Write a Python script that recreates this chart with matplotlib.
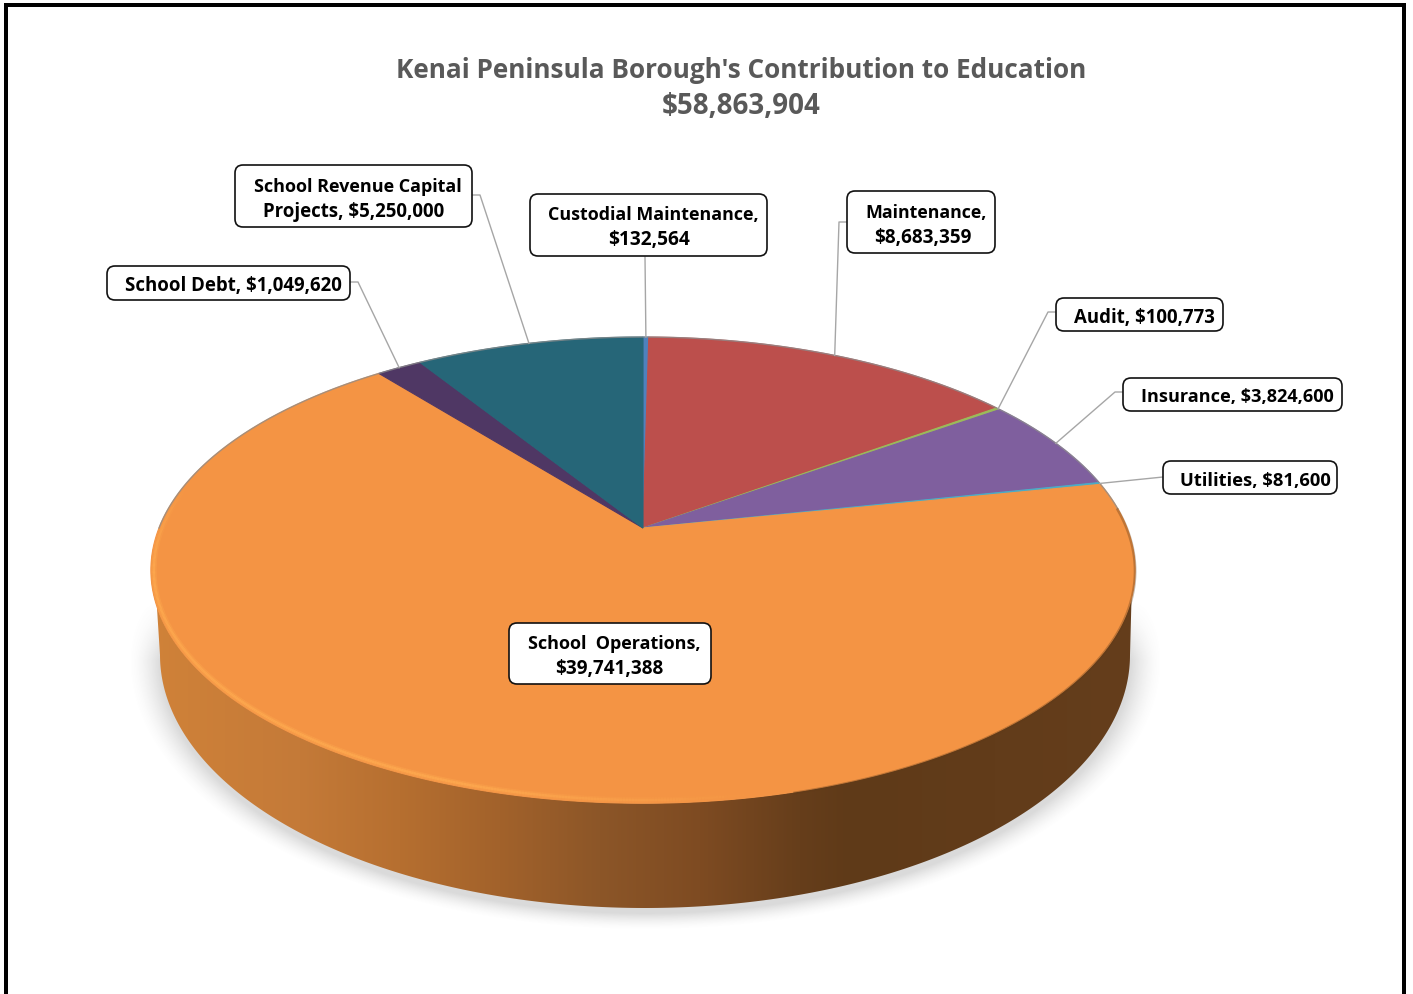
import numpy as np
import matplotlib
matplotlib.use("Agg")
import matplotlib.pyplot as plt
from matplotlib.patches import FancyBboxPatch, Polygon, Rectangle
from matplotlib.collections import LineCollection
from matplotlib.colors import to_rgb

# ---- data (clockwise from 12 o'clock) ----
categories = ["Custodial Maintenance", "Maintenance", "Audit", "Insurance", "Utilities",
              "School Operations", "School Debt", "School Revenue Capital Projects"]
values = [132564, 8683359, 100773, 3824600, 81600, 39741388, 1049620, 5250000]
colors = ["#4F81BD", "#BC4F4C", "#9BBB59", "#7F5F9E", "#4BACC6", "#F49444", "#4F3764", "#266678"]
title_lines = ["Kenai Peninsula Borough's Contribution to Education", "$58,863,904"]

# label: text lines, box (x0,y0,x1,y1), text centres x, font sizes, elbow point(s) from box to slice
labels = [
    (["Custodial Maintenance,", "$132,564"], (530, 194, 767, 256), (653, 649), (12.9, 13.8), [(645, 257)]),
    (["Maintenance,", "$8,683,359"], (847, 191, 995, 253), (926, 923), (12.8, 13.6), [(847, 222), (839, 222)]),
    (["Audit, $100,773"], (1056, 298, 1223, 331), (1144,), (13.4,), [(1056, 312), (1048, 312)]),
    (["Insurance, $3,824,600"], (1123, 378, 1342, 411), (1237,), (13.1,), [(1123, 392), (1115, 392)]),
    (["Utilities, $81,600"], (1163, 461, 1337, 494), (1255,), (13.2,), [(1163, 477)]),
    (["School  Operations,", "$39,741,388"], (509, 623, 711, 684), (614, 609), (13.0, 13.6), None),
    (["School Debt, $1,049,620"], (107, 266, 350, 300), (233,), (13.4,), [(350, 282), (358, 282)]),
    (["School Revenue Capital", "Projects, $5,250,000"], (235, 165, 472, 227), (358, 354), (13.0, 13.4), [(472, 195), (480, 195)]),
]

side_x = [150, 300, 400, 500, 600, 700, 800, 850, 1140]
side_c = ["#D08239", "#C47A38", "#B66F30", "#A2622B", "#8C5628", "#7E4B22", "#663E1B", "#5F3A18", "#653E1C"]

FONT = "Open Sans"
W, H = 1413, 994
fig = plt.figure(figsize=(W / 100, H / 100), dpi=100)
ax = fig.add_axes([0, 0, 1, 1])
ax.set_xlim(0, W)
ax.set_ylim(H, 0)
ax.axis("off")

# perspective projection of a unit disc
CX, CY = 643, 528
K, A, B = 0.1807, 225.5, 484.0


def project(theta):
    u, v = np.sin(theta), np.cos(theta)
    d = 1 + K * v
    return CX + B * u / d, CY - A * v / d


# shadow
yy, xx = np.mgrid[590:960, 110:1180]
r = np.sqrt(((xx - 645) / 485.0) ** 2 + ((yy - 660) / 253.0) ** 2)
dist = (r - 1) * 300
alpha = np.clip(1 - dist / 20, 0, 1) ** 1.6 * 0.26
alpha *= np.clip((yy - 600) / 60.0, 0, 1)
rgba = np.zeros(alpha.shape + (4,))
rgba[..., :3] = 0.45
rgba[..., 3] = alpha
ax.imshow(rgba, extent=(110, 1180, 960, 590), aspect="auto", zorder=1, interpolation="bilinear")

# side wall
th = np.linspace(np.radians(95), np.radians(265), 400)
tx, ty = project(th)
ph = np.linspace(np.pi, 0, 300)
bx, by = 645 + 485 * np.cos(ph), 655 + 253 * np.sin(ph)
wall = Polygon(np.r_[np.c_[tx, ty], np.c_[bx, by]], closed=True,
               transform=ax.transData, fc="none", ec="none")
ax.add_patch(wall)
gx = np.arange(150, 1141)
rgbs = np.array([to_rgb(c) for c in side_c])
grad = np.stack([np.interp(gx, side_x, rgbs[:, i]) for i in range(3)], axis=-1)[None, :, :]
im = ax.imshow(grad, extent=(150, 1140, 930, 540), aspect="auto", zorder=2, interpolation="bilinear")
im.set_clip_path(wall)
ax.set_xlim(0, W)
ax.set_ylim(H, 0)

# top face slices, driven by the values
vals = np.array(values, dtype=float)
edges = np.r_[0, np.cumsum(vals)] / vals.sum() * 2 * np.pi
mids = (edges[:-1] + edges[1:]) / 2
for i, c in enumerate(colors):
    t = np.linspace(edges[i], edges[i + 1], max(3, int((edges[i + 1] - edges[i]) * 120)))
    px, py = project(t)
    pts = np.r_[[[CX, CY]], np.c_[px, py]]
    ax.add_patch(Polygon(pts, closed=True, fc=c, ec=c, lw=0.8, zorder=3))

# rim: highlight on the lower left, soft grey edge elsewhere
t = np.linspace(np.radians(168), np.radians(282), 400)
px, py = project(t)
ix, iy = px + (643 - px) * 0.006, py + (570 - py) * 0.014
seg = np.stack([np.c_[ix[:-1], iy[:-1]], np.c_[ix[1:], iy[1:]]], axis=1)
deg = np.degrees(t[:-1])
a = np.clip((deg - 168) / 30, 0, 1) * np.clip((282 - deg) / 22, 0, 1)
ax.add_collection(LineCollection(seg, colors=np.c_[np.tile(to_rgb("#FFAB50"), (len(a), 1)), a * 0.35],
                                 linewidths=4.0, zorder=4))
ax.add_collection(LineCollection(seg, colors=np.c_[np.tile(to_rgb("#FFAB50"), (len(a), 1)), a * 0.7],
                                 linewidths=1.8, zorder=4))
t = np.linspace(np.radians(270), np.radians(445), 400)
px, py = project(t)
ax.plot(px, py, color="#8C8C8C", lw=1.0, alpha=0.75, zorder=4)
t = np.linspace(np.radians(85), np.radians(165), 200)
px, py = project(t)
ax.plot(px, py + 1, color="#5F3A18", lw=2.0, alpha=0.35, zorder=4)

# leader lines and boxes
for i, (lines, box, xs, sizes, leader) in enumerate(labels):
    x0, y0, x1, y1 = box
    if leader is not None:
        ex, ey = project(mids[i])
        path = leader + [(ex, ey)]
        ax.plot([p[0] for p in path], [p[1] for p in path], color="#A6A6A6", lw=1.0, zorder=5)
    ax.add_patch(FancyBboxPatch((x0 + 8, y0 + 8), x1 - x0 - 16, y1 - y0 - 16,
                                boxstyle="round,pad=8,rounding_size=8", fc="white", ec="#111111",
                                lw=1.2, zorder=6))
    n = len(lines)
    yc = (y0 + y1) / 2 + 3
    for j, (s, xc, fs) in enumerate(zip(lines, xs, sizes)):
        ax.text(xc, yc + (j - (n - 1) / 2) * 25, s, ha="center", va="center", fontsize=fs,
                family=FONT, weight="bold", color="black", zorder=7)

# title
ax.text(741.5, 70, title_lines[0], ha="center", va="center", fontsize=18.8, family=FONT,
        weight="bold", color="#595959", zorder=7)
ax.text(741.5, 107, title_lines[1], ha="center", va="center", fontsize=20, family=FONT,
        weight="bold", color="#595959", zorder=7)

# frame
for r_ in [(4, 3, 1402, 4), (4, 3, 4, 991), (1402, 3, 4, 991)]:
    ax.add_patch(Rectangle((r_[0], r_[1]), r_[2], r_[3], fc="black", ec="none", zorder=8))

fig.savefig("out.png", dpi=100)
